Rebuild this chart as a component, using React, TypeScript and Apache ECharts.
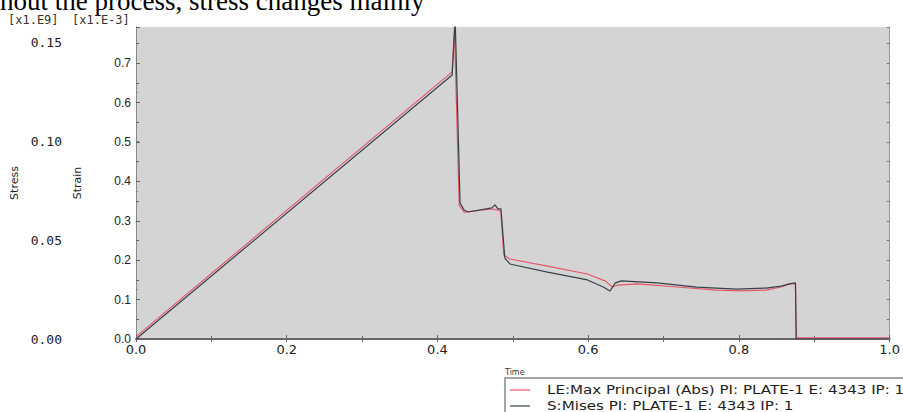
import React, { useEffect, useRef } from "react";
import * as echarts from "echarts";

// Time values and series readings
const strainSeries: [number, number][] = [
  [0.0, 0.006],
  [0.4195, 0.678],
  [0.4225, 0.79],
  [0.4288, 0.34],
  [0.4354, 0.322],
  [0.4723, 0.33],
  [0.48, 0.327],
  [0.484, 0.325],
  [0.488, 0.213],
  [0.496, 0.203],
  [0.546, 0.185],
  [0.599, 0.165],
  [0.623, 0.147],
  [0.632, 0.132],
  [0.639, 0.137],
  [0.665, 0.14],
  [0.718, 0.132],
  [0.77, 0.124],
  [0.803, 0.122],
  [0.836, 0.124],
  [0.856, 0.132],
  [0.867, 0.14],
  [0.875, 0.14],
  [0.876, 0.003],
  [1.0, 0.003],
];

const stressSeries: [number, number][] = [
  [0.0, 0.0],
  [0.4195, 0.1337],
  [0.4235, 0.162],
  [0.43, 0.0689],
  [0.4354, 0.0653],
  [0.4406, 0.0643],
  [0.4723, 0.0664],
  [0.4763, 0.0679],
  [0.4802, 0.0659],
  [0.4842, 0.0659],
  [0.4894, 0.041],
  [0.496, 0.038],
  [0.546, 0.0339],
  [0.599, 0.0299],
  [0.62, 0.0263],
  [0.629, 0.0243],
  [0.636, 0.0284],
  [0.644, 0.0294],
  [0.691, 0.0284],
  [0.744, 0.0263],
  [0.797, 0.0253],
  [0.836, 0.0258],
  [0.856, 0.0268],
  [0.867, 0.0279],
  [0.875, 0.0284],
  [0.876, 0.0],
  [1.0, 0.0],
];

const seriesNames = [
  "LE:Max Principal (Abs) PI: PLATE-1 E: 4343 IP: 1",
  "S:Mises PI: PLATE-1 E: 4343 IP: 1",
];
const seriesColors = ["#e8566a", "#34424a"];

const stressRange = [0, 0.158];
const strainRange = [0, 0.792];
const timeRange = [0, 1];

export default function App() {
  const ref = useRef<HTMLDivElement>(null);
  useEffect(() => {
    if (!ref.current) return;
    const chart = echarts.init(ref.current, undefined, { renderer: "svg" });
    const tickLabel = { color: "#222" };
    const legendRows = seriesNames.map((name, i) => ({
      type: "group",
      x: 510,
      y: 390 + i * 16,
      children: [
        {
          type: "line",
          shape: { x1: 0, y1: 0, x2: 20, y2: 0 },
          style: { stroke: seriesColors[i], lineWidth: 1.2 },
        },
        {
          type: "text",
          x: 37,
          y: 0,
          scaleX: 1.26,
          style: {
            text: name,
            fontFamily: "DejaVu Sans",
            fontSize: 12,
            fill: "#222",
            verticalAlign: "middle",
          },
        },
      ],
    }));
    chart.setOption({
      animation: false,
      backgroundColor: "#ffffff",
      grid: {
        left: 136,
        top: 27,
        right: 8,
        bottom: 73,
        show: true,
        backgroundColor: "#d4d4d4",
        borderWidth: 0,
      },
      xAxis: [
        {
          type: "value",
          position: "bottom",
          min: timeRange[0],
          max: timeRange[1],
          interval: 0.2,
          axisLine: { show: true, lineStyle: { color: "#aaa", width: 1 } },
          axisTick: { show: true, inside: true, length: 4, lineStyle: { color: "#666" } },
          minorTick: { show: true, splitNumber: 2, length: 3, lineStyle: { color: "#666" } },
          splitLine: { show: false },
          axisLabel: {
            ...tickLabel,
            fontFamily: "DejaVu Sans",
            fontSize: 13,
            margin: 4,
            formatter: (v: number) => v.toFixed(1),
          },
        },
        {
          type: "value",
          position: "top",
          min: timeRange[0],
          max: timeRange[1],
          interval: 0.1,
          axisLine: { show: true, lineStyle: { color: "#666", width: 2 } },
          axisTick: { show: true, inside: true, length: 3, lineStyle: { color: "#666" } },
          splitLine: { show: false },
          axisLabel: { show: false },
        },
      ],
      yAxis: [
        {
          type: "value",
          position: "left",
          offset: 71,
          min: stressRange[0],
          max: stressRange[1],
          interval: 0.05,
          name: "Stress",
          nameLocation: "middle",
          nameGap: 45,
          nameRotate: 90,
          nameTextStyle: { fontFamily: "DejaVu Sans", fontSize: 11, color: "#222" },
          axisLine: { show: true, lineStyle: { color: "#888", width: 1 } },
          axisTick: { show: true, inside: true, length: 3, lineStyle: { color: "#888" } },
          minorTick: { show: true, splitNumber: 2, length: 2, lineStyle: { color: "#888" } },
          splitLine: { show: false },
          axisLabel: {
            ...tickLabel,
            fontFamily: "DejaVu Sans Mono",
            fontSize: 13,
            margin: 3,
            showMaxLabel: false,
            formatter: (v: number) => v.toFixed(2),
          },
        },
        {
          type: "value",
          position: "left",
          offset: 0,
          min: strainRange[0],
          max: strainRange[1],
          interval: 0.1,
          name: "Strain",
          nameLocation: "middle",
          nameGap: 53,
          nameRotate: 90,
          nameTextStyle: { fontFamily: "DejaVu Sans", fontSize: 11, color: "#222" },
          axisLine: { show: true, lineStyle: { color: "#888", width: 1 } },
          axisTick: { show: true, inside: true, length: 4, lineStyle: { color: "#666" } },
          minorTick: { show: true, splitNumber: 2, length: 3, lineStyle: { color: "#666" } },
          splitLine: { show: false },
          axisLabel: {
            ...tickLabel,
            fontFamily: "Liberation Sans",
            fontSize: 12,
            margin: 5,
            showMaxLabel: false,
            formatter: (v: number) => v.toFixed(1),
          },
        },
        {
          type: "value",
          position: "right",
          min: strainRange[0],
          max: strainRange[1],
          interval: 0.05,
          axisLine: { show: true, lineStyle: { color: "#999", width: 1 } },
          axisTick: { show: true, inside: true, length: 3, lineStyle: { color: "#777" } },
          splitLine: { show: false },
          axisLabel: { show: false },
        },
      ],
      graphic: [
        {
          type: "text",
          x: 0,
          y: 1.3,
          style: {
            text: "hout the process, stress changes mainly",
            fontFamily: "Liberation Serif",
            fontSize: 27,
            fill: "#000",
            verticalAlign: "middle",
          },
        },
        {
          type: "text",
          left: 8,
          top: 14,
          style: { text: "[x1.E9]", fontFamily: "DejaVu Sans Mono", fontSize: 12, fill: "#333" },
        },
        {
          type: "text",
          left: 72,
          top: 14,
          style: { text: "[x1.E-3]", fontFamily: "DejaVu Sans Mono", fontSize: 12, fill: "#333" },
        },
        {
          type: "text",
          left: 505,
          top: 368,
          style: { text: "Time", fontFamily: "DejaVu Sans", fontSize: 8, fill: "#333" },
        },
        {
          type: "rect",
          shape: { x: 505, y: 378, width: 420, height: 60 },
          style: { fill: "#ffffff", stroke: "#888", lineWidth: 1.5 },
        },
        ...legendRows,
      ],
      series: [
        {
          name: seriesNames[0],
          type: "line",
          xAxisIndex: 0,
          yAxisIndex: 1,
          data: strainSeries,
          showSymbol: false,
          symbol: "none",
          lineStyle: { color: seriesColors[0], width: 1.2 },
          itemStyle: { color: seriesColors[0] },
          clip: true,
        },
        {
          name: seriesNames[1],
          type: "line",
          xAxisIndex: 0,
          yAxisIndex: 0,
          data: stressSeries,
          showSymbol: false,
          symbol: "none",
          lineStyle: { color: seriesColors[1], width: 1.2 },
          itemStyle: { color: seriesColors[1] },
          clip: true,
        },
      ],
    });
    return () => chart.dispose();
  }, []);
  return (
    <div
      ref={ref}
      style={{ position: "fixed", left: 0, top: 0, width: 903, height: 412 }}
    />
  );
}
